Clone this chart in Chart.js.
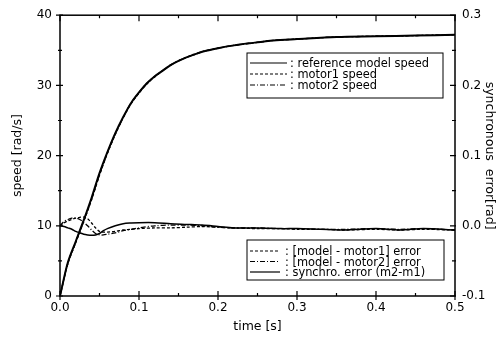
<!DOCTYPE html>
<html>
<head>
<meta charset="utf-8">
<script src="https://cdn.jsdelivr.net/npm/chart.js@4/dist/chart.umd.min.js"></script>
<style>
  body { margin: 0; background: #fff; }
  canvas { display: block; }
</style>
</head>
<body>
<canvas id="chart" width="503" height="350"></canvas>
<script>
// speed curves (left axis, rad/s)
const speedTime = [0, 0.01, 0.02, 0.03, 0.04, 0.05, 0.06, 0.07, 0.08, 0.09, 0.10, 0.11, 0.12, 0.13, 0.14, 0.15, 0.16, 0.17, 0.18, 0.20, 0.22, 0.24, 0.27, 0.30, 0.35, 0.40, 0.45, 0.50];
const refSpeed    = [0, 4.8, 7.8, 10.8, 14.0, 17.5, 20.5, 23.2, 25.5, 27.5, 29.0, 30.3, 31.3, 32.1, 32.9, 33.5, 34.0, 34.4, 34.8, 35.3, 35.7, 36.0, 36.4, 36.6, 36.9, 37.0, 37.1, 37.2];
const motor1Speed = [0, 4.6, 7.6, 10.6, 13.7, 17.2, 20.3, 23.0, 25.4, 27.4, 28.9, 30.2, 31.2, 32.1, 32.9, 33.5, 34.0, 34.4, 34.8, 35.3, 35.7, 36.0, 36.4, 36.6, 36.9, 37.0, 37.1, 37.2];
const motor2Speed = [0, 4.7, 7.7, 10.7, 13.8, 17.3, 20.4, 23.1, 25.4, 27.5, 29.0, 30.3, 31.3, 32.1, 32.9, 33.5, 34.0, 34.4, 34.8, 35.3, 35.7, 36.0, 36.4, 36.6, 36.9, 37.0, 37.1, 37.2];

// error curves (right axis, rad)
const errTime = [0, 0.005, 0.01, 0.015, 0.02, 0.025, 0.03, 0.035, 0.04, 0.045, 0.05, 0.055, 0.06, 0.07, 0.08, 0.09, 0.10, 0.12, 0.14, 0.16, 0.18, 0.20, 0.22, 0.25, 0.28, 0.30, 0.33, 0.36, 0.40, 0.43, 0.46, 0.50];
const err1    = [0, 0.004, 0.007, 0.009, 0.011, 0.012, 0.0125, 0.010, 0.004, -0.003, -0.008, -0.009, -0.009, -0.008, -0.006, -0.005, -0.004, -0.003, -0.003, -0.002, -0.001, -0.002, -0.003, -0.004, -0.004, -0.005, -0.005, -0.006, -0.005, -0.006, -0.005, -0.006];
const err2    = [0, 0.006, 0.009, 0.011, 0.011, 0.009, 0.005, 0.000, -0.006, -0.011, -0.013, -0.013, -0.012, -0.010, -0.007, -0.005, -0.003, 0.000, 0.001, 0.001, 0.000, -0.002, -0.003, -0.003, -0.004, -0.004, -0.005, -0.005, -0.004, -0.005, -0.004, -0.006];
const syncErr = [0, -0.001, -0.003, -0.005, -0.008, -0.010, -0.012, -0.013, -0.0135, -0.013, -0.011, -0.007, -0.004, 0.000, 0.003, 0.004, 0.0045, 0.0045, 0.003, 0.002, 0.001, -0.001, -0.003, -0.003, -0.004, -0.004, -0.005, -0.006, -0.004, -0.006, -0.004, -0.006];

const speedLegend = ['reference model speed', 'motor1 speed', 'motor2 speed'];
const errLegend = ['[model - motor1] error', '[model - motor2] error', 'synchro. error (m2-m1)'];

const FONT = 'DejaVu Sans';
const DASH = [3, 2];
const DASHDOT = [5, 2, 1, 2];

function pts(xs, ys) {
  return xs.map((x, i) => ({ x: x, y: ys[i] }));
}

// frame, inward ticks and the two boxed legends
const decorations = {
  id: 'decorations',
  afterDraw(chart) {
    const ctx = chart.ctx;
    const a = chart.chartArea;
    const sx = chart.scales.x, sy = chart.scales.y, sy1 = chart.scales.y1;
    ctx.save();
    ctx.strokeStyle = '#000';
    ctx.lineWidth = 1.5;
    ctx.strokeRect(a.left, a.top, a.right - a.left, a.bottom - a.top);

    ctx.lineWidth = 1.2;
    ctx.beginPath();
    for (let i = 0; i <= 10; i++) {
      const px = sx.getPixelForValue(i * 0.05);
      const major = i % 2 === 0;
      ctx.moveTo(px, a.bottom + (major ? 4 : 0));
      ctx.lineTo(px, a.bottom - (major ? 5 : 3));
      ctx.moveTo(px, a.top);
      ctx.lineTo(px, a.top + (major ? 6 : 3));
    }
    for (let i = 0; i <= 8; i++) {
      const py = sy.getPixelForValue(i * 5);
      const major = i % 2 === 0;
      ctx.moveTo(a.left - (major ? 4 : 2), py);
      ctx.lineTo(a.left + (major ? 3 : 2), py);
    }
    for (let i = 0; i <= 8; i++) {
      const py = sy1.getPixelForValue(-0.1 + i * 0.05);
      const major = i % 2 === 0;
      ctx.moveTo(a.right + 1, py);
      ctx.lineTo(a.right - (major ? 5 : 3), py);
    }
    ctx.stroke();

    ctx.font = '11.4px "' + FONT + '"';
    ctx.fillStyle = '#000';
    ctx.textBaseline = 'alphabetic';

    // speed legend
    ctx.lineWidth = 1;
    ctx.setLineDash([]);
    ctx.strokeRect(247, 53, 196, 45);
    const dashes1 = [[], DASH, DASHDOT];
    speedLegend.forEach((txt, i) => {
      const base = 67 + i * 11;
      ctx.setLineDash(dashes1[i]);
      ctx.lineWidth = 1.2;
      ctx.beginPath();
      ctx.moveTo(250, base - 4);
      ctx.lineTo(287, base - 4);
      ctx.stroke();
      ctx.setLineDash([]);
      ctx.fillText(': ' + txt, 290, base);
    });

    // error legend
    ctx.lineWidth = 1;
    ctx.strokeRect(247, 240, 197, 40);
    const dashes2 = [DASH, DASHDOT, []];
    errLegend.forEach((txt, i) => {
      const base = 255 + i * 10.5;
      ctx.setLineDash(dashes2[i]);
      ctx.lineWidth = 1.2;
      ctx.beginPath();
      ctx.moveTo(250, base - 4);
      ctx.lineTo(280, base - 4);
      ctx.stroke();
      ctx.setLineDash([]);
      ctx.fillText(': ' + txt, 285, base);
    });
    ctx.restore();
  }
};

const tickFont = { family: FONT, size: 12 };
const titleFont = { family: FONT, size: 12.5 };

new Chart(document.getElementById('chart'), {
  type: 'line',
  data: {
    datasets: [
      { data: pts(speedTime, refSpeed), yAxisID: 'y', borderColor: '#000', borderWidth: 2, tension: 0.3 },
      { data: pts(speedTime, motor1Speed), yAxisID: 'y', borderColor: '#000', borderWidth: 1.3, borderDash: DASH, tension: 0.3 },
      { data: pts(speedTime, motor2Speed), yAxisID: 'y', borderColor: '#000', borderWidth: 1.3, borderDash: DASHDOT, tension: 0.3 },
      { data: pts(errTime, err1), yAxisID: 'y1', borderColor: '#000', borderWidth: 1.3, borderDash: DASH, tension: 0.3 },
      { data: pts(errTime, err2), yAxisID: 'y1', borderColor: '#000', borderWidth: 1.3, borderDash: DASHDOT, tension: 0.3 },
      { data: pts(errTime, syncErr), yAxisID: 'y1', borderColor: '#000', borderWidth: 1.5, tension: 0.3 }
    ]
  },
  options: {
    responsive: false,
    animation: false,
    layout: { padding: { top: 14, left: 0, right: 0, bottom: 0 } },
    elements: { point: { radius: 0 } },
    plugins: { legend: { display: false }, tooltip: { enabled: false } },
    scales: {
      x: {
        type: 'linear',
        min: 0, max: 0.5,
        grid: { display: false, drawTicks: false },
        border: { display: false },
        ticks: { stepSize: 0.1, padding: 5, color: '#000', font: tickFont, maxRotation: 0, callback: v => v.toFixed(1) },
        title: { display: true, text: 'time [s]', color: '#000', font: titleFont, padding: { top: 0, bottom: 16 } },
        afterFit: s => { s.height = 54; }
      },
      y: {
        position: 'left',
        min: 0, max: 40,
        grid: { display: false, drawTicks: false },
        border: { display: false },
        ticks: { stepSize: 10, padding: 8, color: '#000', font: tickFont },
        title: { display: true, text: 'speed [rad/s]', color: '#000', font: titleFont, padding: { top: 10, bottom: 10 } },
        afterFit: s => { s.width = 60; }
      },
      y1: {
        position: 'right',
        min: -0.1, max: 0.3,
        grid: { display: false, drawTicks: false },
        border: { display: false },
        ticks: { stepSize: 0.1, padding: 7, color: '#000', font: tickFont, callback: v => v.toFixed(1) },
        title: { display: true, text: 'synchronous  error[rad]', color: '#000', font: titleFont, padding: { top: 6, bottom: 6 } },
        afterFit: s => { s.width = 48; }
      }
    }
  },
  plugins: [decorations]
});
</script>
</body>
</html>
